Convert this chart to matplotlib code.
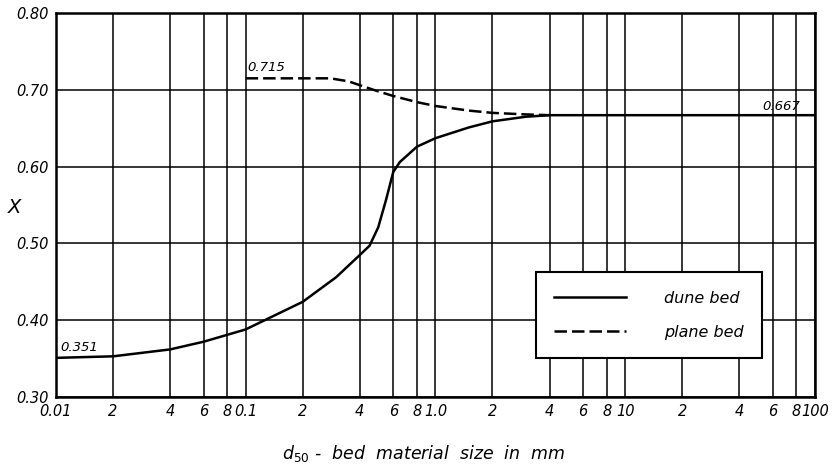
import matplotlib.pyplot as plt
from matplotlib.ticker import FixedLocator, FixedFormatter, NullLocator

# dune bed curve
dune_d = [0.01, 0.02, 0.04, 0.06, 0.08, 0.1, 0.2, 0.3, 0.4, 0.45, 0.5, 0.55,
          0.6, 0.65, 0.8, 1.0, 1.5, 2, 3, 4, 10, 100]
dune_x = [0.351, 0.353, 0.362, 0.372, 0.381, 0.388, 0.424, 0.456, 0.485, 0.497,
          0.521, 0.557, 0.593, 0.606, 0.626, 0.637, 0.651, 0.659, 0.665, 0.667,
          0.667, 0.667]

# plane bed curve
plane_d = [0.1, 0.28, 0.35, 0.4, 0.5, 0.6, 0.8, 1.0, 1.5, 2, 3, 4]
plane_x = [0.715, 0.715, 0.711, 0.706, 0.698, 0.692, 0.684, 0.679, 0.673,
           0.670, 0.668, 0.667]

# grid / tick positions
x_ticks = [0.01, 0.02, 0.04, 0.06, 0.08, 0.1, 0.2, 0.4, 0.6, 0.8, 1.0,
           2, 4, 6, 8, 10, 20, 40, 60, 80, 100]
x_labels = ['0.01', '2', '4', '6', '8', '0.1', '2', '4', '6', '8', '1.0',
            '2', '4', '6', '8', '10', '2', '4', '6', '8', '100']
y_ticks = [0.30, 0.40, 0.50, 0.60, 0.70, 0.80]
y_labels = ['0.30', '0.40', '0.50', '0.60', '0.70', '0.80']

plt.rcParams['font.family'] = ['DejaVu Sans']
plt.rcParams['mathtext.fontset'] = 'dejavusans'

fig = plt.figure(figsize=(8.34, 4.66), dpi=100)
ax = fig.add_axes([0.067, 0.148, 0.910, 0.824])

ax.set_xscale('log')
ax.set_xlim(0.01, 100)
ax.set_ylim(0.30, 0.80)

ax.xaxis.set_major_locator(FixedLocator(x_ticks))
ax.xaxis.set_major_formatter(FixedFormatter(x_labels))
ax.xaxis.set_minor_locator(NullLocator())
ax.yaxis.set_major_locator(FixedLocator(y_ticks))
ax.yaxis.set_major_formatter(FixedFormatter(y_labels))
ax.tick_params(length=0, pad=5, labelsize=10.5)
for lab in ax.get_xticklabels() + ax.get_yticklabels():
    lab.set_fontstyle('italic')

ax.grid(True, color='black', linewidth=1.1)
for s in ax.spines.values():
    s.set_linewidth(1.8)

ax.plot(dune_d, dune_x, color='black', linewidth=1.8, label='dune bed')
ax.plot(plane_d, plane_x, color='black', linewidth=1.8, dashes=(5, 2),
        label='plane bed')

# end values
ax.text(0.0105, 0.356, '0.351', fontsize=9.5, style='italic', va='bottom')
ax.text(0.102, 0.720, '0.715', fontsize=9.5, style='italic', va='bottom')
ax.text(53, 0.670, '0.667', fontsize=9.5, style='italic', va='bottom')

ax.set_ylabel('X', fontsize=14, style='italic', rotation=0, labelpad=14)
ax.yaxis.set_label_coords(-0.055, 0.47)
ax.set_xlabel(r'$\mathit{d}_{\mathit{50}}$ -  bed  material  size  in  mm',
              fontsize=12.5, style='italic')
ax.xaxis.set_label_coords(0.485, -0.12)

leg = ax.legend(loc='lower right', bbox_to_anchor=(0.931, 0.101),
                borderaxespad=0, frameon=True, fancybox=False,
                edgecolor='black', framealpha=1, fontsize=11.5,
                handlelength=4.5, handletextpad=2.4, borderpad=1.15,
                labelspacing=1.2)
leg.get_frame().set_linewidth(1.5)
for t in leg.get_texts():
    t.set_fontstyle('italic')

fig.savefig('out.png', dpi=100)
